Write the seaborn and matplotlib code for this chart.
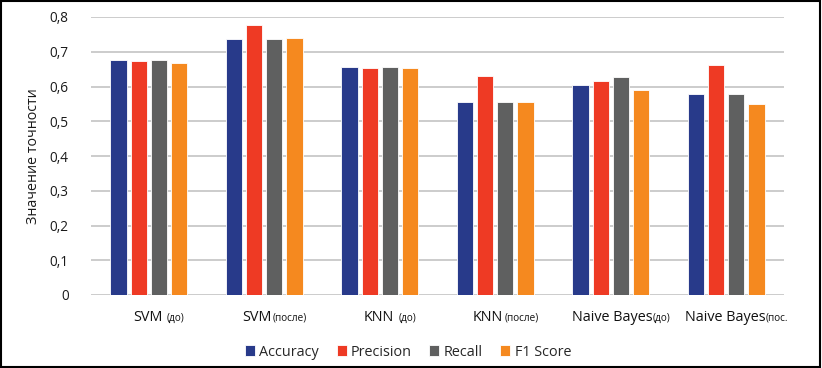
import seaborn as sns
import pandas as pd
import matplotlib.pyplot as plt
from matplotlib.offsetbox import TextArea, HPacker, AnnotationBbox
from matplotlib.ticker import FuncFormatter

# category labels: main part + small part in brackets
models_main = ['SVM', 'SVM', 'KNN', 'KNN', 'Naive Bayes', 'Naive Bayes']
models_small = ['(до)', '(после)', '(до)', '(после)', '(до)', '(пос.']
label_sep = [3, 1, 3, 1, 0, 0]
metrics = ['Accuracy', 'Precision', 'Recall', 'F1 Score']

accuracy = [0.677, 0.736, 0.655, 0.555, 0.603, 0.578]
precision = [0.672, 0.778, 0.653, 0.629, 0.617, 0.661]
recall = [0.677, 0.736, 0.655, 0.555, 0.626, 0.578]
f1_score = [0.667, 0.739, 0.652, 0.555, 0.590, 0.550]

colors = ['#283a8a', '#ee3a24', '#5f6060', '#f5891f']

models = [m + ' ' + s for m, s in zip(models_main, models_small)]
rows = []
for name, vals in zip(metrics, [accuracy, precision, recall, f1_score]):
    for m, v in zip(models, vals):
        rows.append({'model': m, 'metric': name, 'value': v})
df = pd.DataFrame(rows)

sns.set_style('white')
plt.rcParams['font.family'] = ['Open Sans', 'DejaVu Sans']

fig = plt.figure(figsize=(8.22, 3.68), dpi=100)
ax = fig.add_axes([91 / 822, 1 - 295 / 368, (784 - 91) / 822, (295 - 17) / 368])

sns.barplot(data=df, x='model', y='value', hue='metric', palette=colors,
            saturation=1, width=0.7, gap=0.2, ax=ax, edgecolor='white',
            linewidth=0.6, legend=True)

ax.set_ylim(0, 0.8)
ax.set_yticks([i / 10 for i in range(9)])
ax.yaxis.set_major_formatter(FuncFormatter(
    lambda v, p: '0' if v == 0 else f'{v:.1f}'.replace('.', ',')))
ax.tick_params(axis='y', labelsize=9.8, colors='#1a1a1a', length=0, pad=16)
ax.grid(axis='y', color='#c8c8c8', linewidth=1.3)
ax.set_axisbelow(True)
for s in ax.spines.values():
    s.set_visible(False)
ax.set_xlabel('')
ax.set_ylabel('Значение точности', fontsize=10.3, color='#1a1a1a', labelpad=6)
ax.set_xlim(-0.5, 5.5)

# x labels with smaller bracketed part
ax.set_xticks(range(len(models)))
ax.set_xticklabels([''] * len(models))
ax.tick_params(axis='x', length=0)
trans = ax.get_xaxis_transform()
for i, (m, s) in enumerate(zip(models_main, models_small)):
    box = HPacker(children=[
        TextArea(m, textprops=dict(fontsize=10.4, color='#111111')),
        TextArea(s, textprops=dict(fontsize=7.2, color='#111111')),
    ], align='baseline', pad=0, sep=label_sep[i])
    ab = AnnotationBbox(box, (i + 0.09, -0.08), xycoords=trans,
                        frameon=False, box_alignment=(0.5, 0.5),
                        annotation_clip=False)
    ax.add_artist(ab)

handles, labels = ax.get_legend_handles_labels()
ax.legend(handles, labels, loc='center', bbox_to_anchor=(408 / 822, 16 / 368),
          bbox_transform=fig.transFigure, ncol=4, frameon=False,
          fontsize=10.4, handlelength=0.7, handleheight=0.7, handletextpad=0.3,
          columnspacing=1.2)

# black frame around the whole picture
fig.patches.append(plt.Rectangle((0.001, 0.002), 0.997, 0.996,
                                 transform=fig.transFigure, fill=False,
                                 edgecolor='black', linewidth=1.5))

fig.savefig('out.png', dpi=100)
